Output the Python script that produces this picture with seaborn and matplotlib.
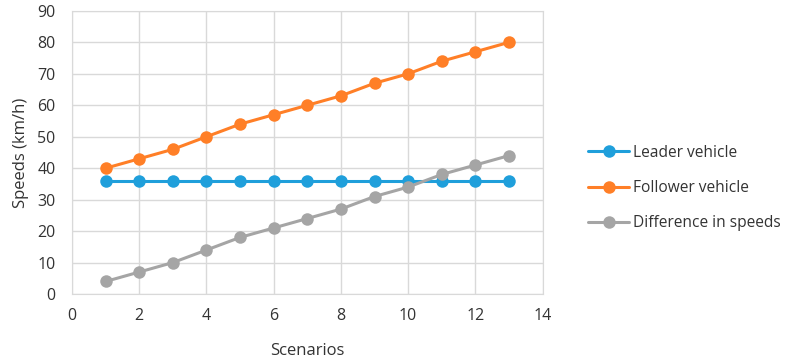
import pandas as pd
import matplotlib.pyplot as plt
import seaborn as sns

# Data
scenarios = list(range(1, 14))
leader = [36] * 13
follower = [40, 43, 46, 50, 54, 57, 60, 63, 67, 70, 74, 77, 80]
difference = [4, 7, 10, 14, 18, 21, 24, 27, 31, 34, 38, 41, 44]
series_names = ['Leader vehicle', 'Follower vehicle', 'Difference in speeds']
colors = ['#1F9FDB', '#FF7F27', '#A5A5A5']

df = pd.DataFrame({'Scenario': scenarios,
                   series_names[0]: leader,
                   series_names[1]: follower,
                   series_names[2]: difference})
df_long = pd.melt(df, id_vars=['Scenario'], var_name='Series', value_name='Speed')

sns.set_style('white')
plt.rcParams['font.family'] = ['Open Sans', 'DejaVu Sans']

fig = plt.figure(figsize=(7.92, 3.63), dpi=100)
ax = fig.add_axes([0.091, 0.19, 0.594, 0.78])

sns.lineplot(data=df_long, x='Scenario', y='Speed', hue='Series',
             palette=colors, marker='o', markersize=9, markeredgewidth=0,
             linewidth=2.2, ax=ax)

ax.set_xlim(0, 14)
ax.set_ylim(0, 90)
ax.set_xticks(range(0, 15, 2))
ax.set_yticks(range(0, 91, 10))
ax.grid(True, color='#D9D9D9', linewidth=1)
ax.set_axisbelow(True)
for s in ax.spines.values():
    s.set_color('#D9D9D9')
ax.tick_params(axis='x', length=0, labelsize=11.5, colors='#333333', pad=10)
ax.tick_params(axis='y', length=0, labelsize=11.5, colors='#333333', pad=12)
ax.set_xlabel('Scenarios', fontsize=12, color='#333333', labelpad=14)
ax.set_ylabel('Speeds (km/h)', fontsize=12, color='#333333', labelpad=6)

handles, labels = ax.get_legend_handles_labels()
ax.legend_.remove()
fig.legend(handles, labels, loc='center left', bbox_to_anchor=(0.735, 0.482),
           frameon=False, fontsize=11.2, handlelength=2.6, labelspacing=1.25,
           handletextpad=0.3, labelcolor='#333333', borderaxespad=0)

fig.savefig('out.png', dpi=100)
